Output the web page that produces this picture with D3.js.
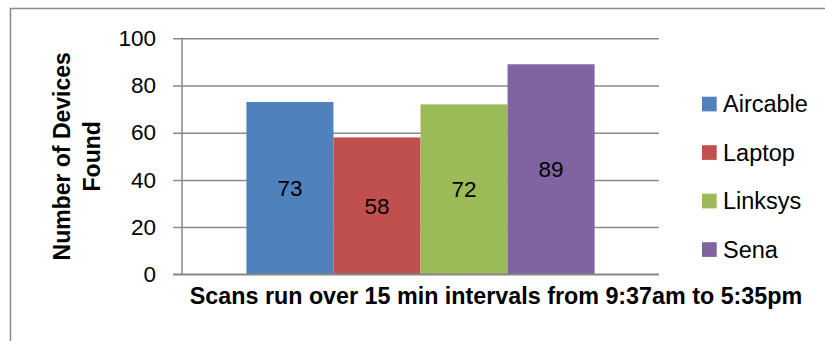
<!DOCTYPE html>
<html>
<head>
<meta charset="utf-8">
<script src="https://cdn.jsdelivr.net/npm/d3@7"></script>
<style>
  body { margin: 0; background: #fff; }
  svg { font-family: "Liberation Sans", Arial, sans-serif; }
</style>
</head>
<body>
<script>
// Chart data
var categories = ["Scans run over 15 min intervals from 9:37am to 5:35pm"];
var seriesNames = ["Aircable", "Laptop", "Linksys", "Sena"];
var seriesValues = [73, 58, 72, 89];
var seriesColors = ["#4F81BD", "#C0504D", "#9BBB59", "#8064A2"];
var yTicks = [0, 20, 40, 60, 80, 100];

var width = 825, height = 341;
var plot = { left: 182, right: 659, top: 38.3, bottom: 274.3 };

var svg = d3.select("body")
    .append("svg")
    .attr("width", width)
    .attr("height", height);

// Chart frame (right and bottom edges run off the picture)
svg.append("rect")
    .attr("x", 10.5)
    .attr("y", 8.5)
    .attr("width", 840)
    .attr("height", 360)
    .attr("fill", "none")
    .attr("stroke", "#8a8a8a")
    .attr("stroke-width", 1.5);

var y = d3.scaleLinear()
    .domain([0, 100])
    .range([plot.bottom, plot.top]);

var x0 = d3.scaleBand()
    .domain(categories)
    .range([plot.left, plot.right])
    .paddingOuter(0.185);

var x1 = d3.scaleBand()
    .domain(seriesNames)
    .range([0, x0.bandwidth()]);

// Gridlines + y axis
var yAxis = d3.axisLeft(y)
    .tickValues(yTicks)
    .tickSize(-(plot.right - plot.left))
    .tickPadding(26)
    .tickFormat(d3.format("d"));

var gy = svg.append("g")
    .attr("transform", "translate(" + plot.left + ",0)")
    .call(yAxis);

gy.select(".domain").remove();
gy.selectAll(".tick line")
    .attr("x1", -9)
    .attr("stroke", "#8a8a8a")
    .attr("stroke-width", 1.5);
gy.selectAll(".tick text")
    .attr("font-size", 22.5)
    .attr("font-family", "Liberation Sans, Arial, sans-serif")
    .attr("fill", "#000");

// Vertical axis line
svg.append("line")
    .attr("x1", plot.left).attr("x2", plot.left)
    .attr("y1", plot.top).attr("y2", plot.bottom)
    .attr("stroke", "#868686")
    .attr("stroke-width", 1.5);

// Bars
var group = svg.selectAll(".group")
    .data(categories)
    .enter()
    .append("g")
    .attr("class", "group")
    .attr("transform", d => "translate(" + x0(d) + ",0)");

var barData = seriesNames.map((s, i) => ({ name: s, value: seriesValues[i], color: seriesColors[i] }));

group.selectAll("rect")
    .data(barData)
    .enter()
    .append("rect")
    .attr("x", d => x1(d.name))
    .attr("y", d => y(d.value))
    .attr("width", x1.bandwidth())
    .attr("height", d => y(0) - y(d.value))
    .attr("fill", d => d.color);

// Data labels, centred in each bar
group.selectAll(".valueLabel")
    .data(barData)
    .enter()
    .append("text")
    .attr("class", "valueLabel")
    .attr("x", d => x1(d.name) + x1.bandwidth() / 2)
    .attr("y", d => (y(d.value) + y(0)) / 2)
    .attr("dy", "0.36em")
    .attr("text-anchor", "middle")
    .attr("font-size", 22.5)
    .text(d => d.value);

// Baseline drawn over the bars
svg.append("line")
    .attr("x1", plot.left - 9).attr("x2", plot.right)
    .attr("y1", y(0)).attr("y2", y(0))
    .attr("stroke", "#868686")
    .attr("stroke-width", 1.5);

// X axis title
svg.append("text")
    .attr("x", 496)
    .attr("y", 303.5)
    .attr("text-anchor", "middle")
    .attr("font-weight", "bold")
    .attr("font-size", 23.3)
    .text(categories[0]);

// Y axis title, two lines
var yTitle = svg.append("text")
    .attr("transform", "translate(70," + ((plot.top + plot.bottom) / 2) + ") rotate(-90)")
    .attr("text-anchor", "middle")
    .attr("font-weight", "bold")
    .attr("font-size", 23);
yTitle.append("tspan").attr("x", 0).attr("y", 0).text("Number of Devices");
yTitle.append("tspan").attr("x", 0).attr("y", 30).text("Found");

// Legend
var legend = svg.selectAll(".legend")
    .data(barData)
    .enter()
    .append("g")
    .attr("class", "legend")
    .attr("transform", (d, i) => "translate(702," + (104 + i * 48.5) + ")");

legend.append("rect")
    .attr("x", 0)
    .attr("y", -7.3)
    .attr("width", 14.7)
    .attr("height", 14.7)
    .attr("fill", d => d.color);

legend.append("text")
    .attr("x", 21)
    .attr("y", 0)
    .attr("dy", "0.36em")
    .attr("font-size", 23.5)
    .text(d => d.name);
</script>
</body>
</html>
